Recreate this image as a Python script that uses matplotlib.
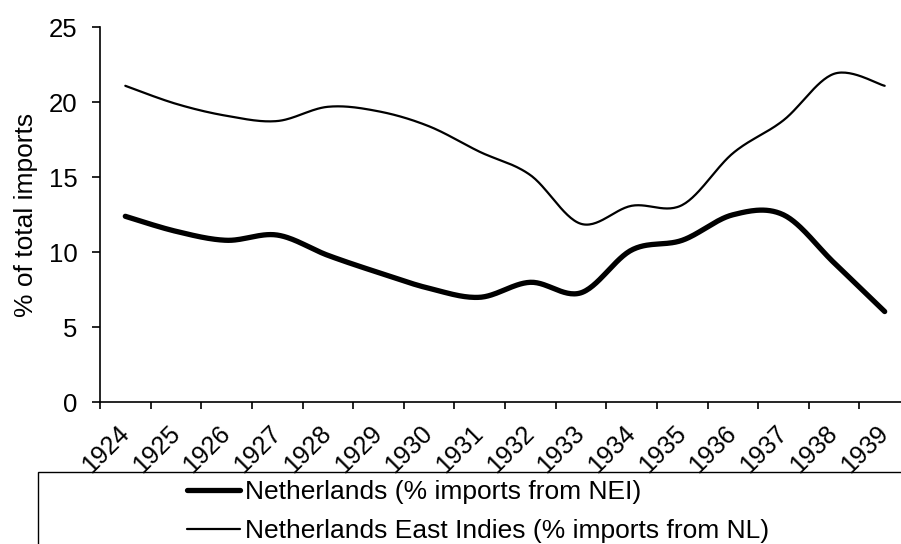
import numpy as np
import matplotlib
matplotlib.use("Agg")
import matplotlib.pyplot as plt
from matplotlib.patches import Rectangle

plt.rcParams['font.family'] = ['Liberation Sans', 'DejaVu Sans']

years = ['1924', '1925', '1926', '1927', '1928', '1929', '1930', '1931',
         '1932', '1933', '1934', '1935', '1936', '1937', '1938', '1939']

# share of total imports (%)
nl_from_nei = [12.4, 11.4, 10.8, 11.15, 9.8, 8.65, 7.6, 7.0,
               8.0, 7.3, 10.15, 10.8, 12.5, 12.5, 9.3, 6.05]
nei_from_nl = [21.1, 19.9, 19.1, 18.75, 19.7, 19.4, 18.4, 16.7,
               15.15, 11.9, 13.1, 13.15, 16.6, 18.8, 21.9, 21.1]

label_nl = 'Netherlands (% imports from NEI)'
label_nei = 'Netherlands East Indies (% imports from NL)'


def smooth(x, y, steps=30):
    # Excel-style smoothed line: cubic Bezier segments, Catmull-Rom tangents
    p = np.column_stack([x, y]).astype(float)
    out = []
    for i in range(len(p) - 1):
        p0 = p[i - 1] if i > 0 else p[i]
        p1, p2 = p[i], p[i + 1]
        p3 = p[i + 2] if i + 2 < len(p) else p[i + 1]
        c1 = p1 + (p2 - p0) / 6
        c2 = p2 - (p3 - p1) / 6
        t = np.linspace(0, 1, steps, endpoint=(i == len(p) - 2))[:, None]
        seg = ((1 - t) ** 3) * p1 + 3 * ((1 - t) ** 2) * t * c1 \
            + 3 * (1 - t) * t ** 2 * c2 + t ** 3 * p2
        out.append(seg)
    out = np.vstack(out)
    return out[:, 0], out[:, 1]


fig = plt.figure(figsize=(9.01, 5.44), dpi=100)
ax = fig.add_axes([100 / 901, 141.7 / 544, 810 / 901, 375 / 544])

x = np.arange(len(years))
sx, sy = smooth(x, nl_from_nei)
l1, = ax.plot(sx, sy, color='black', lw=3.8, solid_capstyle='round',
              clip_on=False, label=label_nl)
sx, sy = smooth(x, nei_from_nl)
l2, = ax.plot(sx, sy, color='black', lw=1.6, solid_capstyle='round',
              clip_on=False, label=label_nei)

ax.set_xlim(-0.5, len(years) - 0.5)
ax.set_ylim(0, 25)
ax.set_yticks(range(0, 26, 5))

# category boundaries get the tick marks, labels sit at the centres
ax.set_xticks(np.arange(-0.5, len(years), 1.0))
ax.set_xticklabels([])
ax.set_xticks(x, minor=True)
ax.set_xticklabels(years, minor=True, rotation=45, ha='right', va='center',
                   rotation_mode='anchor')
ax.tick_params(axis='x', which='major', length=5, width=1.2, direction='out')
ax.tick_params(axis='x', which='minor', length=0, pad=19.5, labelsize=18)
ax.tick_params(axis='y', length=6, width=1.2, pad=10, labelsize=18.5)

for s in ['top', 'right']:
    ax.spines[s].set_visible(False)
for s in ['left', 'bottom']:
    ax.spines[s].set_linewidth(1.2)

ax.set_ylabel('% of total imports', fontsize=19)
ax.yaxis.set_label_coords(-0.077, 0.5)

# legend box running off the bottom right of the figure
fig.patches.append(Rectangle((37.7 / 901, -0.05), 1.0, 0.05 + (544 - 472.3) / 544,
                             transform=fig.transFigure, fill=False,
                             edgecolor='black', lw=1.0))
fig.legend(handles=[l1, l2], loc='upper left',
           bbox_to_anchor=(187 / 901, 1 - 480.5 / 544), frameon=False,
           borderpad=0, borderaxespad=0, handlelength=2.0,
           handletextpad=0.2, labelspacing=0.54, fontsize=19)

fig.savefig('out.png', dpi=100)
